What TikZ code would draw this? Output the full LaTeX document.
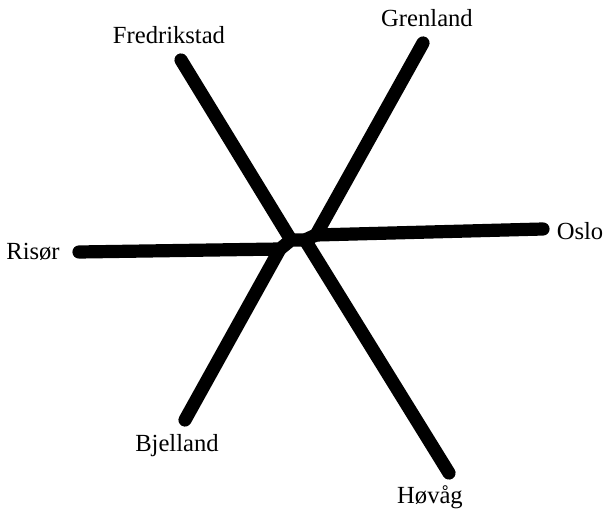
\documentclass[tikz,border=0pt]{standalone}
\usepackage{fontspec}
\setmainfont{Liberation Serif}
\begin{document}
\begin{tikzpicture}[x=0.025cm,y=-0.025cm,
  branch/.style={line width=0.33cm, line cap=round, line join=round},
  leaf/.style={font=\fontsize{17.5}{20}\selectfont, inner sep=0pt}]
  \useasboundingbox (0,0) rectangle (608,512);

  % inner points
  \coordinate (n1) at (280,249);
  \coordinate (n2) at (291,240);
  \coordinate (n3) at (305,240);
  \coordinate (n4) at (316,235);

  % leaf ends
  \coordinate (risor) at (79,252);
  \coordinate (oslo) at (543,229);
  \coordinate (fred) at (181,60);
  \coordinate (gren) at (423,43);
  \coordinate (bjel) at (185,420);
  \coordinate (hova) at (449,473);

  % labels
  \node[leaf] (lrisor) at (33,252) {Risør};
  \node[leaf] (loslo) at (580,231) {Oslo};
  \node[leaf] (lfred) at (169,35) {Fredrikstad};
  \node[leaf] (lgren) at (427,18) {Grenland};
  \node[leaf] (lbjel) at (177,446) {Bjelland};
  \node[leaf] (lhova) at (430,497) {Høvåg};

  % Branches
  \draw[branch] (risor) -- (n1) -- (n2) -- (n3) -- (n4) -- (oslo);
  \draw[branch] (bjel) -- (n1);
  \draw[branch] (fred) -- (n2);
  \draw[branch] (hova) -- (n3);
  \draw[branch] (gren) -- (n4);
\end{tikzpicture}
\end{document}
